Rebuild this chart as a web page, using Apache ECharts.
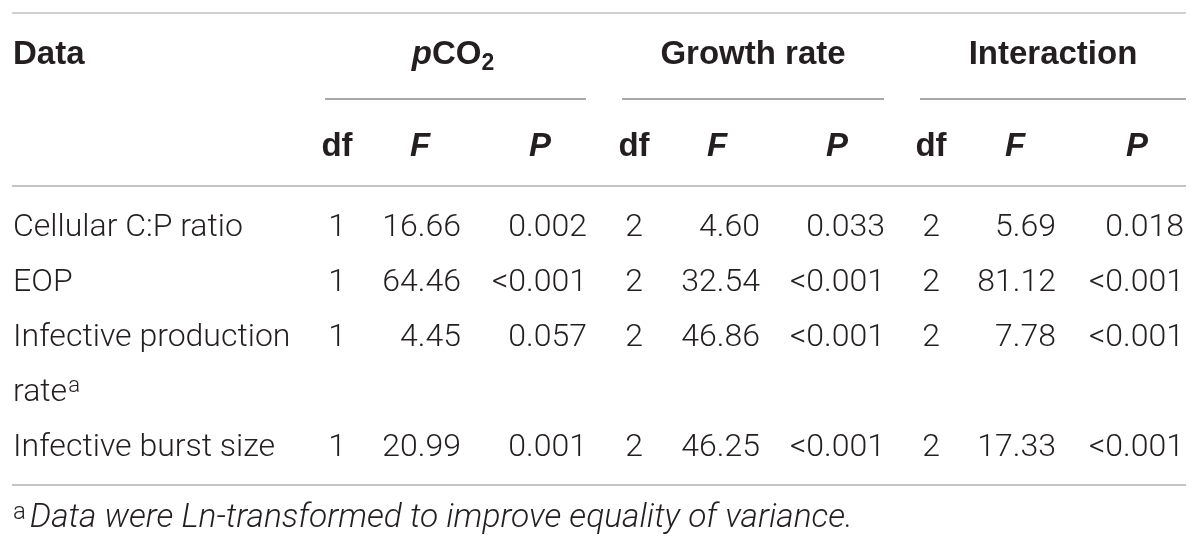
<!DOCTYPE html>
<html>
<head>
<meta charset="utf-8">
<title>ANOVA table</title>
<script src="https://cdn.jsdelivr.net/npm/echarts@6/dist/echarts.min.js"></script>
<style>
  html, body { margin: 0; padding: 0; background: #fff; }
  #main { width: 1200px; height: 548px; }
</style>
</head>
<body>
<div id="main"></div>
<script>
// ---- table content ----
var rowLabels = ['Cellular C:P ratio', 'EOP', 'Infective production\nrate', 'Infective burst size'];
var rowNotes = ['', '', 'a', ''];
var groupNames = ['pCO2', 'Growth rate', 'Interaction'];
var subHeads = ['df', 'F', 'P'];

var pco2Df = [1, 1, 1, 1];
var pco2F = [16.66, 64.46, 4.45, 20.99];
var pco2P = ['0.002', '<0.001', '0.057', '0.001'];

var growthDf = [2, 2, 2, 2];
var growthF = [4.60, 32.54, 46.86, 46.25];
var growthP = ['0.033', '<0.001', '<0.001', '<0.001'];

var interDf = [2, 2, 2, 2];
var interF = [5.69, 81.12, 7.78, 17.33];
var interP = ['0.018', '<0.001', '<0.001', '<0.001'];

var footnoteMark = 'a';
var footnoteText = 'Data were Ln-transformed to improve equality of variance.';

// ---- layout (pixel space of the hidden axes) ----
var layout = {
  left: 12, right: 1186,
  topRule: 13, groupRule: 99, headRule: 186, bottomRule: 485,
  groupY: 55, subY: 147, firstRowY: 228, lineStep: 55, footY: 519,
  cols: [
    { center: 453, rule: [325, 586], df: 337, fHead: 420, fRight: 461, pHead: 540, pRight: 587 },
    { center: 753, rule: [622, 884], df: 634, fHead: 717, fRight: 760, pHead: 837, pRight: 885 },
    { center: 1053, rule: [920, 1186], df: 931, fHead: 1015, fRight: 1056, pHead: 1137, pRight: 1184 }
  ]
};

var FAMILY = '"Liberation Sans", Arial, Helvetica, sans-serif';
var LIGHT = 'Roboto, "Liberation Sans", Arial, sans-serif';
var INK = '#231f20';
var bodyStyle = { fontSize: 32, fontFamily: LIGHT, fontWeight: 300, fill: INK };
var headStyle = { fontSize: 33, fontFamily: FAMILY, fontWeight: 'bold', fill: INK };

var richDefs = {
  sup: { fontSize: 22, fontFamily: LIGHT, fontWeight: 300, lineHeight: 22, verticalAlign: 'top', padding: [10, 0, 0, 1], color: INK },
  fsup: { fontSize: 24, fontFamily: LIGHT, fontWeight: 300, lineHeight: 24, verticalAlign: 'top', padding: [0, 4, 0, 0], color: INK },
  body: { fontSize: 32, fontFamily: LIGHT, fontWeight: 300, lineHeight: 36, color: INK },
  it: { fontSize: 33.5, fontFamily: LIGHT, fontWeight: 300, fontStyle: 'italic', lineHeight: 36, color: INK },
  bi: { fontSize: 33, fontFamily: FAMILY, fontStyle: 'italic', fontWeight: 'bold', lineHeight: 40, color: INK },
  b: { fontSize: 33, fontFamily: FAMILY, fontWeight: 'bold', lineHeight: 40, color: INK },
  sub: { fontSize: 23, fontFamily: FAMILY, fontWeight: 'bold', lineHeight: 23, verticalAlign: 'bottom', color: INK }
};

// ---- build cells ----
var cells = [];
var rules = [];

function cell(x, y, text, align, base, rich, lineHeight) {
  cells.push({ x: x, y: y, text: text, align: align, base: base, rich: rich, lineHeight: lineHeight });
}

rules.push([layout.left, layout.right, layout.topRule, '#d0d0d0']);
rules.push([layout.left, layout.right, layout.headRule, '#c4c4c4']);
rules.push([layout.left, layout.right, layout.bottomRule, '#c4c4c4']);

cell(layout.left + 1, layout.groupY, 'Data', 'left', headStyle);

var groupRich = ['{bi|p}{b|CO}{sub|2}', '{b|' + groupNames[1] + '}', '{b|' + groupNames[2] + '}'];
var dfs = [pco2Df, growthDf, interDf];
var fs = [pco2F, growthF, interF];
var ps = [pco2P, growthP, interP];

layout.cols.forEach(function (c, g) {
  cell(c.center, layout.groupY, groupRich[g], 'center', headStyle, true);
  rules.push([c.rule[0], c.rule[1], layout.groupRule, '#a8a8a8']);
  cell(c.df, layout.subY, '{b|' + subHeads[0] + '}', 'center', headStyle, true);
  cell(c.fHead, layout.subY, '{bi|' + subHeads[1] + '}', 'center', headStyle, true);
  cell(c.pHead, layout.subY, '{bi|' + subHeads[2] + '}', 'center', headStyle, true);
});

var lineIdx = 0;
rowLabels.forEach(function (label, r) {
  var y = layout.firstRowY + lineIdx * layout.lineStep;
  var lines = label.split('\n');
  var txt = lines.map(function (l, i) {
    var s = '{body|' + l + '}';
    if (i === lines.length - 1 && rowNotes[r]) s += '{sup|' + rowNotes[r] + '}';
    return s;
  }).join('\n');
  // wrapped label is centred over its lines, first line sits on the row
  var yLabel = y + (lines.length - 1) * layout.lineStep / 2;
  cell(layout.left + 1, yLabel, txt, 'left', bodyStyle, true, layout.lineStep);
  layout.cols.forEach(function (c, g) {
    cell(c.df, y, String(dfs[g][r]), 'center', bodyStyle);
    cell(c.fRight, y, fs[g][r].toFixed(2), 'right', bodyStyle);
    cell(c.pRight, y, ps[g][r], 'right', bodyStyle);
  });
  lineIdx += lines.length;
});

cell(layout.left + 1, layout.footY, '{fsup|' + footnoteMark + '}{it|' + footnoteText + '}', 'left', bodyStyle, true);

// ---- chart ----
var chart = echarts.init(document.getElementById('main'), null, { renderer: 'canvas' });

var option = {
  backgroundColor: '#ffffff',
  animation: false,
  grid: { left: 0, right: 0, top: 0, bottom: 0 },
  xAxis: { type: 'value', min: 0, max: 1200, show: false },
  yAxis: { type: 'value', min: 0, max: 548, inverse: true, show: false },
  series: [{
    type: 'custom',
    name: 'rules',
    coordinateSystem: 'cartesian2d',
    silent: true,
    data: rules.map(function (r) { return [r[0], r[2], r[1]]; }),
    renderItem: function (params, api) {
      var r = rules[params.dataIndex];
      var a = api.coord([r[0], r[2]]);
      var b = api.coord([r[1], r[2]]);
      return {
        type: 'line',
        shape: { x1: a[0], y1: a[1], x2: b[0], y2: b[1] },
        style: { stroke: r[3], lineWidth: 2 }
      };
    }
  }, {
    type: 'custom',
    name: 'cells',
    coordinateSystem: 'cartesian2d',
    silent: true,
    data: cells.map(function (c) { return [c.x, c.y]; }),
    renderItem: function (params, api) {
      var c = cells[params.dataIndex];
      var p = api.coord([c.x, c.y]);
      var style = Object.assign({}, c.base, {
        text: c.text,
        align: c.align,
        verticalAlign: 'middle'
      });
      if (c.rich) {
        var rich = {};
        Object.keys(richDefs).forEach(function (k) {
          rich[k] = Object.assign({}, richDefs[k]);
        });
        if (c.lineHeight) rich.body.lineHeight = c.lineHeight;
        style.rich = rich;
      }
      return { type: 'text', x: p[0], y: p[1], style: style };
    }
  }]
};

chart.setOption(option);
</script>
</body>
</html>
